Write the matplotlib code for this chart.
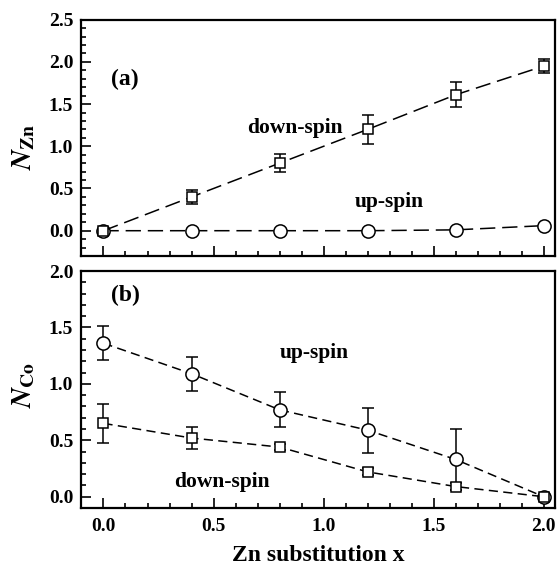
import matplotlib
matplotlib.use('Agg')
import matplotlib.pyplot as plt
from matplotlib.ticker import MultipleLocator

plt.rcParams['font.family'] = ['Liberation Serif', 'DejaVu Serif']
plt.rcParams['font.weight'] = 'bold'
plt.rcParams['mathtext.fontset'] = 'stix'

# Zn substitution
x = [0.0, 0.4, 0.8, 1.2, 1.6, 2.0]

# (a) N_Zn
zn_down = [0.00, 0.40, 0.80, 1.20, 1.61, 1.95]
zn_down_err = [0.02, 0.08, 0.11, 0.17, 0.15, 0.08]
zn_up = [0.00, 0.00, 0.00, 0.00, 0.01, 0.06]

# (b) N_Co
co_up = [1.36, 1.09, 0.77, 0.59, 0.33, 0.00]
co_up_err = [0.15, 0.15, 0.155, 0.20, 0.27, 0.0]
co_down = [0.65, 0.52, 0.44, 0.22, 0.09, 0.00]
co_down_err = [0.17, 0.10, 0.03, 0.03, 0.03, 0.0]

fig = plt.figure(figsize=(5.6, 5.72), dpi=100)
ax1 = fig.add_axes([0.1455, 0.5524, 0.845, 0.4132])
ax2 = fig.add_axes([0.1455, 0.1119, 0.845, 0.4143])

mk = dict(mfc='white', mec='black', mew=1.1, color='black', lw=1.1)
eb = dict(ecolor='black', elinewidth=1.1, capsize=4.5, capthick=1.1)

# top panel
ax1.errorbar(x, zn_down, yerr=zn_down_err, marker='s', ms=7.5,
             dashes=(10, 4.5), **mk, **eb)
ax1.plot(x, zn_up, marker='o', ms=9.5, dashes=(10, 4.5), **mk)
ax1.text(0.035, 1.79, '(a)', fontsize=17, va='center')
ax1.text(0.87, 1.22, 'down-spin', fontsize=15.5, ha='center', va='center')
ax1.text(1.30, 0.34, 'up-spin', fontsize=15.5, ha='center', va='center')
ax1.set_ylim(-0.3, 2.5)
ax1.set_ylabel(r'$N_{\mathbf{Zn}}$', fontsize=20)
ax1.yaxis.set_label_coords(-0.093, 0.46)
ax1.tick_params(axis='x', labelbottom=False)

# bottom panel
ax2.errorbar(x, co_up, yerr=co_up_err, marker='o', ms=9.5,
             dashes=(6, 3.5), **mk, **eb)
ax2.errorbar(x, co_down, yerr=co_down_err, marker='s', ms=7.5,
             dashes=(6, 3.5), **mk, **eb)
ax2.text(0.035, 1.78, '(b)', fontsize=17, va='center')
ax2.text(0.96, 1.27, 'up-spin', fontsize=15.5, ha='center', va='center')
ax2.text(0.54, 0.13, 'down-spin', fontsize=15.5, ha='center', va='center')
ax2.set_ylim(-0.1, 2.0)
ax2.set_ylabel(r'$N_{\mathbf{Co}}$', fontsize=20)
ax2.yaxis.set_label_coords(-0.093, 0.52)
ax2.set_xlabel('Zn substitution x', fontsize=17, fontweight='bold')
ax2.xaxis.set_label_coords(0.5, -0.155)

for ax in (ax1, ax2):
    ax.set_xlim(-0.1, 2.05)
    ax.xaxis.set_major_locator(MultipleLocator(0.5))
    ax.xaxis.set_minor_locator(MultipleLocator(0.1))
    ax.yaxis.set_major_locator(MultipleLocator(0.5))
    ax.yaxis.set_minor_locator(MultipleLocator(0.1))
    ax.tick_params(which='both', direction='in', top=False, right=False,
                   labelsize=14, width=1.2)
    ax.tick_params(which='major', length=7)
    ax.tick_params(which='minor', length=3.5)
    ax.tick_params(axis='x', pad=7)
    ax.tick_params(axis='y', pad=6)
    for s in ax.spines.values():
        s.set_linewidth(1.6)
    ax.yaxis.set_major_formatter(plt.FormatStrFormatter('%.1f'))
    ax.xaxis.set_major_formatter(plt.FormatStrFormatter('%.1f'))
    for lab in ax.get_xticklabels() + ax.get_yticklabels():
        lab.set_fontweight('bold')

fig.savefig('out.png', dpi=100)
